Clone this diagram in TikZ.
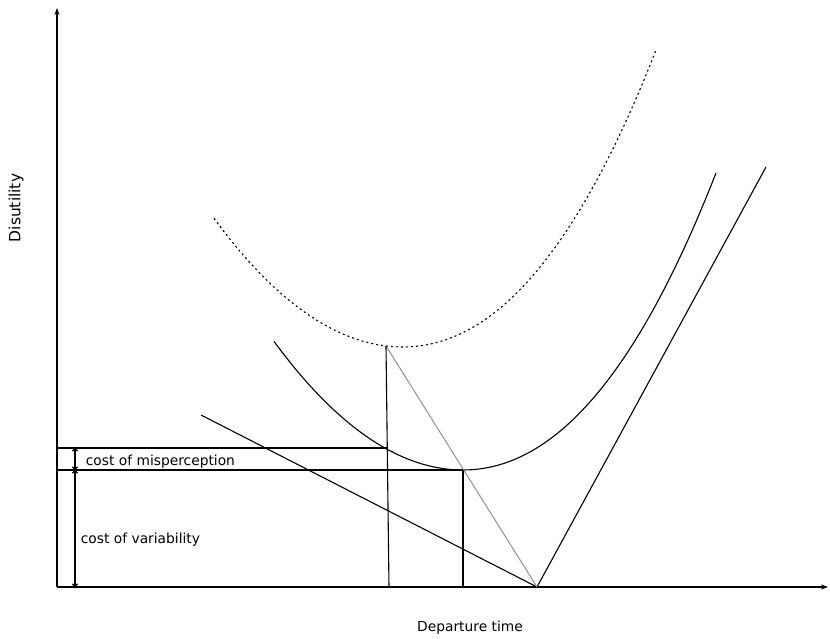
\documentclass[tikz,border=0pt]{standalone}
\usepackage{fontspec}
\setmainfont{DejaVu Sans}
\usetikzlibrary{arrows.meta}
\begin{document}
\begin{tikzpicture}[x=1pt,y=-1pt,line width=1.1pt,
    every node/.style={font=\fontsize{13.8}{16}\selectfont},
    dotline/.style={dash pattern=on 2pt off 3pt},
    axis/.style={-{Stealth[length=7pt,width=5pt]}},
    span/.style={{To[length=3.5pt,width=6pt]}-{To[length=3.5pt,width=6pt]}}]
  \useasboundingbox (0,0) rectangle (830,639);
  % axes
  \coordinate (O) at (57,587);
  \coordinate (ytop) at (57,8);
  \coordinate (xend) at (828,587);
  \draw[axis] (O) -- (ytop);
  \draw[axis] (O) -- (xend);
  \node[rotate=90,font=\fontsize{15.5}{18}\selectfont] (dis) at (16,208) {Disutility};
  \node (dep) at (470,628) {Departure time};
  % points
  \coordinate (P) at (386,346);
  \coordinate (Pb) at (389,587);
  \coordinate (Q) at (463,470);
  \coordinate (Qb) at (463,587);
  \coordinate (T) at (537,587);
  \coordinate (Ls) at (201,415);
  \coordinate (Re) at (766,167);
  \coordinate (H1) at (57,448);
  \coordinate (H1e) at (388,448);
  \coordinate (H2) at (57,470);
  % cost curves (true and perceived)
  \foreach \vx/\vy/\sty in {463/470/solid, 403/347/dotline}
    \draw[\sty,shift={(\vx,\vy)}]
      plot[domain=-1.89:0,samples=40] ({100*\x},{-36*\x*\x})
      -- plot[domain=0:2.53,samples=50] ({100*\x},{-38*\x*\x-3.32*\x*\x*\x});
  % schedule delay lines
  \draw (Ls) -- (T) -- (Re);
  \draw[gray!80] (P) -- (T);
  \draw (P) -- (Pb);
  \draw (Q) -- (Qb);
  \draw (H1) -- (H1e);
  \draw (H2) -- (Q);
  % costs
  \coordinate (a1) at (75,448);
  \coordinate (a2) at (75,470);
  \coordinate (a3) at (75,587);
  \draw[span] (a1) -- (a2);
  \draw[span] (a2) -- (a3);
  \node[right] (mis) at (82,462) {cost of misperception};
  \node[right] (var) at (77,540) {cost of variability};
\end{tikzpicture}
\end{document}
